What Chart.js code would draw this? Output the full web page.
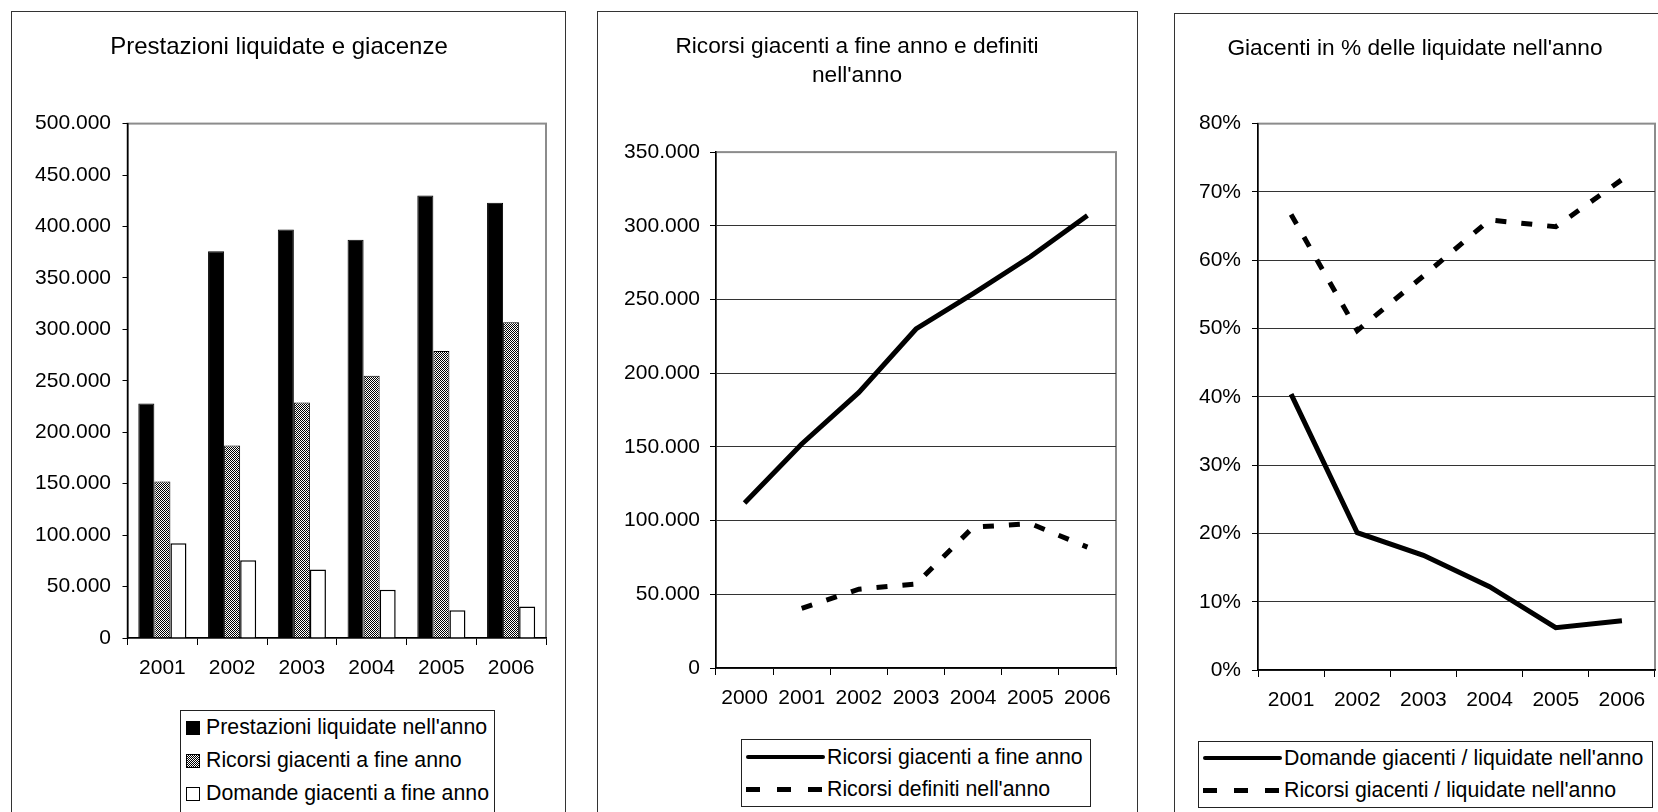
<!DOCTYPE html>
<html>
<head>
<meta charset="utf-8">
<script src="https://cdn.jsdelivr.net/npm/chart.js@4.4.0/dist/chart.umd.min.js"></script>
<style>
body { margin: 0; background: #fff; width: 1658px; height: 812px; overflow: hidden; position: relative; }
.pannello { position: absolute; border: 1.5px solid #333; box-sizing: border-box; }
canvas { position: absolute; }
.legenda { position: absolute; border: 1.5px solid #222; background: #fff; box-sizing: border-box;
  font: 21.3px "Liberation Sans", Arial, sans-serif; color: #000; }
.voce { display: flex; align-items: center; white-space: nowrap; }
.voce span { flex-shrink: 0; }
.q { width: 14px; height: 14px; box-sizing: border-box; border: 1px solid #000; margin: 0 6px 0 5px; }
.nero { background: #000; }
.retino { background: repeating-conic-gradient(#000 0 25%, #fff 0 50%) 0 0 / 2px 2px; }
.bianco { background: #fff; }
.linea { width: 79px; height: 4px; background: #000; border-radius: 2px; margin: 0 2px 0 4px; }
.tratteggio { width: 79px; height: 5px; margin: 0 2px 0 4px;
  background: repeating-linear-gradient(90deg, #000 0 14px, transparent 14px 31px); }
</style>
</head>
<body>

<div class="pannello" style="left:11px;top:11px;width:555px;height:830px"></div>
<div class="pannello" style="left:597px;top:11px;width:541px;height:830px"></div>
<div class="pannello" style="left:1174px;top:13px;width:520px;height:830px"></div>

<canvas id="prestazioni" width="553" height="800" style="left:12px;top:12px"></canvas>
<canvas id="ricorsi" width="539" height="800" style="left:598px;top:12px"></canvas>
<canvas id="percentuali" width="483" height="798" style="left:1175px;top:14px"></canvas>

<div class="legenda" id="leg1" style="left:180px;top:710px;width:315px;height:104px"></div>
<div class="legenda" id="leg2" style="left:741px;top:739px;width:350px;height:68px"></div>
<div class="legenda" id="leg3" style="left:1198px;top:741px;width:455px;height:67px"></div>

<script>
// anni
const anni = ['2001', '2002', '2003', '2004', '2005', '2006'];
const anniRicorsi = ['2000', '2001', '2002', '2003', '2004', '2005', '2006'];

// grafico 1
const prestazioniLiquidate = [228000, 376000, 397000, 387000, 430000, 423000];
const ricorsiGiacenti = [152000, 187000, 229000, 255000, 279000, 307000];
const domandeGiacenti = [92000, 75500, 66500, 47000, 27000, 30500];

// grafico 2
const ricorsiGiacentiFineAnno = [112000, 152000, 187000, 230000, 254000, 279000, 307000];
const ricorsiDefiniti = [null, 40500, 53500, 57000, 95500, 98000, 82000];

// grafico 3 (%)
const domandeSuLiquidate = [40.4, 20.1, 16.8, 12.2, 6.2, 7.2];
const ricorsiSuLiquidate = [66.7, 49.7, 57.7, 65.9, 64.9, 71.8];

Chart.defaults.font.family = '"Liberation Sans", Arial, sans-serif';
Chart.defaults.font.size = 21;
Chart.defaults.color = '#000';

function migliaia(v) {
	return String(v).replace(/\B(?=(\d{3})+(?!\d))/g, '.');
}

// retino grigio a scacchi
function retino() {
	const c = document.createElement('canvas');
	c.width = 2; c.height = 2;
	const g = c.getContext('2d');
	g.fillStyle = '#fff';
	g.fillRect(0, 0, 2, 2);
	g.fillStyle = '#000';
	g.fillRect(0, 0, 1, 1);
	g.fillRect(1, 1, 1, 1);
	return g.createPattern(c, 'repeat');
}

// cornice grigia dell'area del grafico
const cornice = {
	id: 'cornice',
	beforeDraw(chart) {
		const a = chart.chartArea;
		const ctx = chart.ctx;
		ctx.save();
		ctx.strokeStyle = '#8c8c8c';
		ctx.lineWidth = 2;
		ctx.strokeRect(a.left, a.top, a.right - a.left, a.bottom - a.top);
		ctx.restore();
	}
};

function legenda(chart, id, simboli, altezza, sopra) {
	const box = document.getElementById(id);
	box.style.paddingTop = sopra + 'px';
	chart.data.datasets.forEach((ds, i) => {
		const riga = document.createElement('div');
		riga.className = 'voce';
		riga.style.height = altezza + 'px';
		const s = document.createElement('span');
		s.className = simboli[i];
		riga.appendChild(s);
		riga.appendChild(document.createTextNode(ds.label));
		box.appendChild(riga);
	});
}

// GRAFICO 1
const grafico1 = new Chart(document.getElementById('prestazioni'), {
	type: 'bar',
	data: {
		labels: anni,
		datasets: [
			{ label: "Prestazioni liquidate nell'anno", data: prestazioniLiquidate, backgroundColor: '#000', borderColor: '#000', borderWidth: 1 },
			{ label: 'Ricorsi giacenti a fine anno', data: ricorsiGiacenti, backgroundColor: retino(), borderColor: '#000', borderWidth: 1 },
			{ label: 'Domande giacenti a fine anno', data: domandeGiacenti, backgroundColor: '#fff', borderColor: '#000', borderWidth: 1.5 }
		]
	},
	options: {
		responsive: false,
		animation: false,
		categoryPercentage: 0.69,
		barPercentage: 1,
		layout: { padding: { left: 0, right: 19, top: 0, bottom: 124 } },
		plugins: {
			legend: { display: false },
			tooltip: { enabled: false },
			title: { display: true, text: 'Prestazioni liquidate e giacenze', color: '#000', font: { size: 24, weight: 'normal' }, padding: { top: 20.6, bottom: 62.2 } }
		},
		scales: {
			x: {
				grid: { offset: true, drawOnChartArea: false, tickLength: 7, tickColor: '#000' },
				border: { color: '#000', width: 1.5 },
				ticks: { padding: 11, color: '#000', maxRotation: 0 },
				afterFit: s => { s.height = 50; }
			},
			y: {
				min: 0,
				max: 500000,
				grid: { drawOnChartArea: false, tickLength: 5, tickColor: '#000' },
				border: { color: '#000', width: 1.5 },
				ticks: { stepSize: 50000, padding: 11.5, color: '#000', callback: migliaia },
				afterFit: s => { s.width = 115.5; }
			}
		}
	},
	plugins: [cornice]
});

// GRAFICO 2
const grafico2 = new Chart(document.getElementById('ricorsi'), {
	type: 'line',
	data: {
		labels: anniRicorsi,
		datasets: [
			{ label: 'Ricorsi giacenti a fine anno', data: ricorsiGiacentiFineAnno, borderColor: '#000', borderWidth: 5, pointRadius: 0, tension: 0 },
			{ label: "Ricorsi definiti nell'anno", data: ricorsiDefiniti, borderColor: '#000', borderWidth: 5, borderDash: [11, 15], pointRadius: 0, tension: 0 }
		]
	},
	options: {
		responsive: false,
		animation: false,
		layout: { padding: { left: 0, right: 21, top: 0, bottom: 94 } },
		plugins: {
			legend: { display: false },
			tooltip: { enabled: false },
			title: { display: true, text: ['Ricorsi giacenti a fine anno e definiti', "nell'anno"], color: '#000', font: { size: 22.7, weight: 'normal', lineHeight: 1.28 }, padding: { top: 20.5, bottom: 61.5 } }
		},
		scales: {
			x: {
				offset: true,
				grid: { offset: true, drawOnChartArea: false, tickLength: 7, tickColor: '#000' },
				border: { color: '#000', width: 1.5 },
				ticks: { padding: 11, color: '#000', maxRotation: 0 },
				afterFit: s => { s.height = 50; }
			},
			y: {
				min: 0,
				max: 350000,
				grid: { color: c => c.tick.value === 350000 ? 'transparent' : '#333', tickLength: 6, tickColor: '#000' },
				border: { color: '#000', width: 1.5 },
				ticks: { stepSize: 50000, padding: 10, color: '#000', callback: migliaia },
				afterFit: s => { s.width = 118; }
			}
		}
	},
	plugins: [cornice]
});

// GRAFICO 3
const grafico3 = new Chart(document.getElementById('percentuali'), {
	type: 'line',
	data: {
		labels: anni,
		datasets: [
			{ label: "Domande giacenti / liquidate nell'anno", data: domandeSuLiquidate, borderColor: '#000', borderWidth: 5, pointRadius: 0, tension: 0 },
			{ label: "Ricorsi giacenti / liquidate nell'anno", data: ricorsiSuLiquidate, borderColor: '#000', borderWidth: 5, borderDash: [11, 15], pointRadius: 0, tension: 0 }
		]
	},
	options: {
		responsive: false,
		animation: false,
		layout: { padding: { left: 0, right: 3, top: 0, bottom: 92 } },
		plugins: {
			legend: { display: false },
			tooltip: { enabled: false },
			title: { display: true, text: "Giacenti in % delle liquidate nell'anno", color: '#000', font: { size: 22.7, weight: 'normal' }, padding: { top: 21.2, bottom: 61.2 } }
		},
		scales: {
			x: {
				offset: true,
				grid: { offset: true, drawOnChartArea: false, tickLength: 7, tickColor: '#000' },
				border: { color: '#000', width: 1.5 },
				ticks: { padding: 11, color: '#000', maxRotation: 0 },
				afterFit: s => { s.height = 50; }
			},
			y: {
				min: 0,
				max: 80,
				grid: { color: c => c.tick.value === 80 ? 'transparent' : '#333', tickLength: 6, tickColor: '#000' },
				border: { color: '#000', width: 1.5 },
				ticks: { stepSize: 10, padding: 11, color: '#000', callback: v => v + '%' },
				afterFit: s => { s.width = 83; }
			}
		}
	},
	plugins: [cornice]
});

legenda(grafico1, 'leg1', ['q nero', 'q retino', 'q bianco'], 33, 0);
legenda(grafico2, 'leg2', ['linea', 'tratteggio'], 32, 1);
legenda(grafico3, 'leg3', ['linea', 'tratteggio'], 32, 0);
</script>
</body>
</html>
